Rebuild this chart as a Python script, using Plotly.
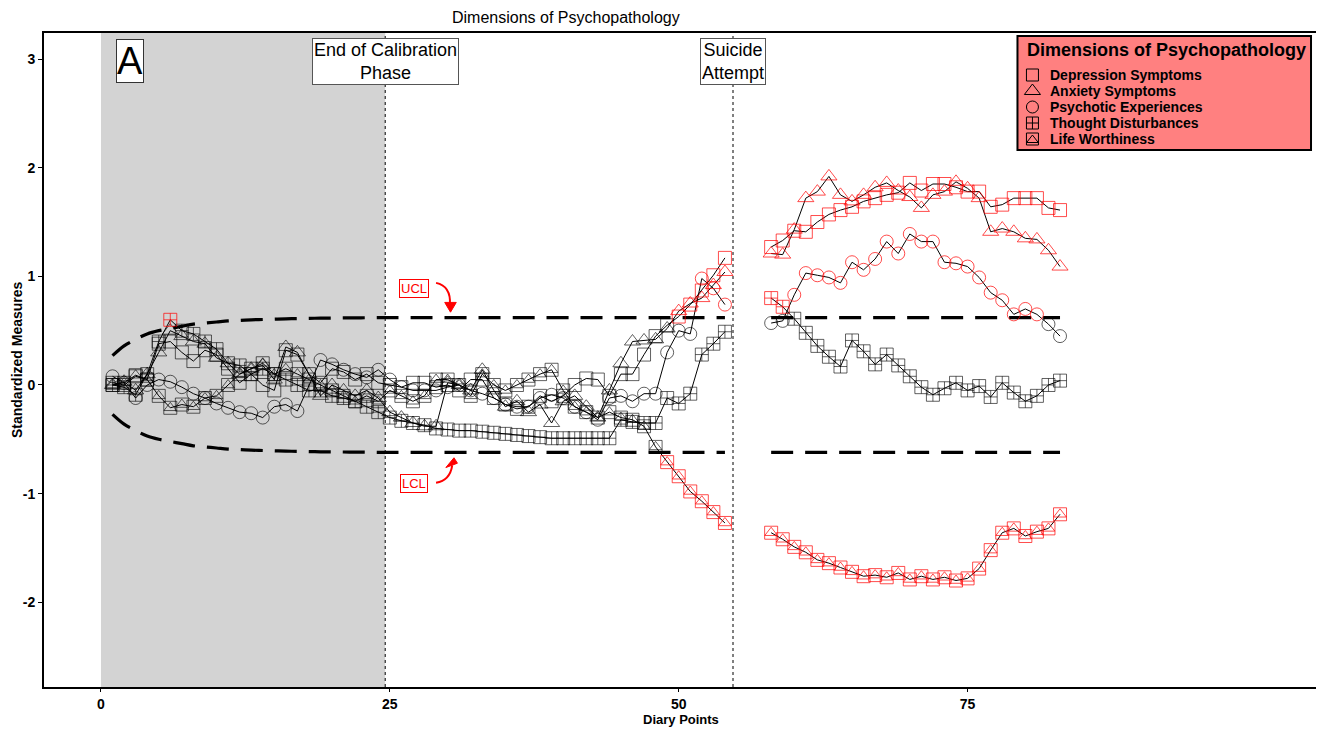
import plotly.graph_objects as go

# ---------------- data ----------------
x_pre = list(range(1, 55))
x_post = list(range(58, 84))

dep_pre = [0.02, 0.00, 0.08, 0.05, 0.38, 0.40, 0.30, 0.22, 0.32, 0.28,
           0.15, 0.02, 0.10, 0.00, -0.05, 0.32, 0.28, 0.10, 0.02, 0.15,
           0.12, 0.05, 0.10, 0.02, 0.00, -0.02, 0.02, 0.02, -0.02, 0.00,
           -0.05, 0.05, 0.05, -0.12, -0.18, -0.22, -0.20, -0.10, -0.15, -0.10,
           0.00, 0.06, 0.05, -0.10, 0.10, 0.10, 0.28, 0.45, 0.55, 0.63,
           0.74, 0.87, 1.01, 1.17]
dep_post = [1.27, 1.33, 1.42, 1.41, 1.50, 1.57, 1.61, 1.64, 1.69, 1.72,
            1.75, 1.77, 1.86, 1.79, 1.85, 1.85, 1.82, 1.78, 1.78, 1.64,
            1.66, 1.72, 1.72, 1.72, 1.63, 1.61]

anx_pre = [0.00, 0.03, -0.05, 0.10, 0.30, 0.50, 0.45, 0.40, 0.38, 0.25,
           0.20, 0.10, 0.15, 0.18, 0.05, 0.35, 0.30, 0.10, -0.10, 0.00,
           -0.05, -0.10, -0.05, -0.12, -0.25, -0.30, -0.35, -0.38, -0.38, 0.02,
           0.00, -0.05, 0.14, -0.05, -0.20, -0.15, -0.25, -0.18, -0.35, -0.15,
           -0.10, -0.20, -0.30, -0.05, 0.20, 0.40, 0.41, 0.42, 0.52, 0.68,
           0.75, 0.80, 0.92, 1.04]
anx_post = [1.21, 1.20, 1.43, 1.72, 1.78, 1.92, 1.75, 1.69, 1.75, 1.82,
            1.86, 1.79, 1.73, 1.63, 1.75, 1.78, 1.87, 1.81, 1.72, 1.41,
            1.44, 1.41, 1.35, 1.34, 1.24, 1.09]

psy_pre = [0.08, 0.02, -0.12, 0.00, 0.05, 0.03, -0.02, -0.08, -0.12, -0.17,
           -0.21, -0.25, -0.26, -0.30, -0.20, -0.18, -0.24, 0.00, 0.23, 0.19,
           0.14, 0.10, 0.07, 0.14, 0.05, -0.02, -0.05, -0.05, -0.05, -0.02,
           0.00, -0.05, -0.08, -0.12, -0.18, -0.20, -0.20, -0.12, -0.09, -0.12,
           -0.20, -0.25, -0.32, -0.12, -0.10, -0.15, -0.08, -0.08, 0.30, 0.50,
           0.47, 0.98, 0.89, 0.74]
psy_post = [0.57, 0.59, 0.83, 1.03, 1.01, 0.99, 0.94, 1.13, 1.06, 1.16,
            1.32, 1.21, 1.39, 1.32, 1.32, 1.13, 1.12, 1.09, 0.99, 0.85,
            0.78, 0.65, 0.70, 0.65, 0.56, 0.45]

thd_pre = [0.00, -0.02, -0.09, 0.10, 0.40, 0.60, 0.50, 0.47, 0.40, 0.33,
           0.20, 0.18, 0.10, 0.15, 0.10, 0.05, 0.00, -0.05, -0.05, -0.10,
           -0.12, -0.15, -0.20, -0.25, -0.30, -0.33, -0.35, -0.37, -0.40, -0.41,
           -0.42, -0.42, -0.43, -0.44, -0.45, -0.46, -0.47, -0.48, -0.49, -0.49,
           -0.49, -0.49, -0.49, -0.49, -0.32, -0.34, -0.35, -0.35, -0.12, -0.17,
           -0.08, 0.28, 0.38, 0.49]
thd_post = [0.80, 0.72, 0.61, 0.48, 0.36, 0.26, 0.17, 0.41, 0.31, 0.19,
            0.28, 0.18, 0.08, -0.02, -0.09, -0.03, 0.02, -0.05, -0.01, -0.11,
            0.02, -0.07, -0.15, -0.10, 0.00, 0.04]

lwo_pre = [0.00, 0.02, 0.09, 0.05, -0.10, -0.21, -0.18, -0.20, -0.12, -0.10,
           0.00, 0.10, 0.15, 0.20, 0.10, 0.15, 0.10, 0.05, 0.00, -0.05,
           -0.10, -0.15, -0.10, -0.15, -0.05, -0.10, -0.15, -0.10, 0.05, 0.05,
           0.00, -0.10, 0.10, 0.00, -0.05, 0.00, 0.05, 0.10, 0.14, -0.05,
           -0.20, -0.25, -0.30, -0.25, -0.30, -0.32, -0.38, -0.57, -0.71, -0.84,
           -0.98, -1.07, -1.17, -1.27]
lwo_post = [-1.36, -1.42, -1.49, -1.54, -1.61, -1.64, -1.68, -1.72, -1.76, -1.75,
            -1.77, -1.73, -1.79, -1.76, -1.79, -1.77, -1.80, -1.78, -1.69, -1.52,
            -1.36, -1.32, -1.39, -1.35, -1.32, -1.19]

series_names = ["Depression Symptoms", "Anxiety Symptoms", "Psychotic Experiences",
                "Thought Disturbances", "Life Worthiness"]

# control limits (calibration curve then flat)
limit_x = list(range(1, 26)) + [54]
limit_upper = [0.27, 0.36, 0.42, 0.47, 0.50, 0.52, 0.54, 0.56, 0.57, 0.58,
               0.59, 0.595, 0.60, 0.603, 0.606, 0.609, 0.611, 0.613, 0.615, 0.616,
               0.617, 0.618, 0.619, 0.62, 0.62, 0.62]
post_limit_x = [58, 83]
ucl = 0.62
lcl = -0.62

calib_end = 24.6
attempt_x = 54.7
x_ticks = [0, 25, 50, 75]
y_ticks = [-2, -1, 0, 1, 2, 3]
y_ticktext = ["-2", "-1", "0", "1", "2", "3"]

# ---------------- figure ----------------
NARROW = "Liberation Sans Narrow, Arial Narrow, Liberation Sans, Arial"
SANS = "Liberation Sans, Arial, Helvetica"
GREY = "rgba(0,0,0,0.62)"
RED = "rgba(255,0,0,0.7)"

# page offset of the plot div (browser body margin) is 8px; plot area target
# in the screenshot: x 44..1322, y 33..687
W, H = 1316, 721
PL, PR, PT, PB = 36, 2, 25, 42

fig = go.Figure()


def lim_at(x):
    if x <= 25:
        return limit_upper[x - 1]
    return ucl


def colours(xs, ys):
    return [RED if abs(v) > lim_at(x) + 1e-9 else GREY for x, v in zip(xs, ys)]


dash = "22px,12px"
for xs, ys in [(limit_x, limit_upper), (limit_x, [-v for v in limit_upper])]:
    fig.add_trace(go.Scatter(x=xs, y=ys, mode="lines", line_shape="spline",
                             line=dict(color="black", width=3.2, dash=dash), hoverinfo="skip"))
for lv in (ucl, lcl):
    fig.add_trace(go.Scatter(x=post_limit_x, y=[lv, lv], mode="lines",
                             line=dict(color="black", width=3.2, dash=dash), hoverinfo="skip"))

pre_all = [dep_pre, anx_pre, psy_pre, thd_pre, lwo_pre]
post_all = [dep_post, anx_post, psy_post, thd_post, lwo_post]

for pre, post in zip(pre_all, post_all):
    fig.add_trace(go.Scatter(x=x_pre, y=pre, mode="lines", line=dict(color="black", width=1),
                             hoverinfo="skip"))
    fig.add_trace(go.Scatter(x=x_post, y=post, mode="lines", line=dict(color="black", width=1),
                             hoverinfo="skip"))

xs_all = x_pre + x_post
symbols = [("square-open", 13), ("triangle-up-open", 14), ("circle-open", 13),
           ("square-cross-open", 13)]
for (sym, size), pre, post, name in zip(symbols, pre_all[:4], post_all[:4], series_names[:4]):
    ys = pre + post
    fig.add_trace(go.Scatter(x=xs_all, y=ys, mode="markers", name=name,
                             marker=dict(symbol=sym, size=size, color=colours(xs_all, ys),
                                         line=dict(width=1))))
ys = lwo_pre + lwo_post
fig.add_trace(go.Scatter(x=xs_all, y=ys, mode="markers", name=series_names[4],
                         marker=dict(symbol="square-open", size=13, color=colours(xs_all, ys),
                                     line=dict(width=1))))
fig.add_trace(go.Scatter(x=xs_all, y=ys, mode="markers", showlegend=False,
                         marker=dict(symbol="triangle-up-open", size=11, color=colours(xs_all, ys),
                                     line=dict(width=1))))

# ---------- manual legend glyphs on pixel overlay axes ----------
leg_y = [75, 91, 107, 123]
for (sym, size), yy in zip(symbols, leg_y):
    fig.add_trace(go.Scatter(x=[1034], y=[yy], mode="markers", xaxis="x2", yaxis="y2",
                             marker=dict(symbol=sym, size=12 if "triangle" not in sym else 14,
                                         color="black", line=dict(width=1)), hoverinfo="skip"))
fig.add_trace(go.Scatter(x=[1034], y=[139], mode="markers", xaxis="x2", yaxis="y2",
                         marker=dict(symbol="square-open", size=12, color="black", line=dict(width=1)),
                         hoverinfo="skip"))
fig.add_trace(go.Scatter(x=[1034], y=[140], mode="markers", xaxis="x2", yaxis="y2",
                         marker=dict(symbol="triangle-up-open", size=10, color="black", line=dict(width=1)),
                         hoverinfo="skip"))

shapes = [
    dict(type="rect", xref="x", yref="paper", x0=0, x1=calib_end, y0=0, y1=1,
         fillcolor="#D3D3D3", line=dict(width=0), layer="below"),
    dict(type="line", xref="x", yref="paper", x0=calib_end, x1=calib_end, y0=0, y1=1,
         line=dict(color="black", width=1, dash="dot"), layer="below"),
    dict(type="line", xref="x", yref="paper", x0=attempt_x, x1=attempt_x, y0=0, y1=1,
         line=dict(color="black", width=1, dash="dot"), layer="below"),
    # legend box
    dict(type="rect", xref="paper", yref="paper", x0=(1019 - 44) / 1278, x1=(1313 - 44) / 1278,
         y0=(687 - 150) / 654, y1=(687 - 36) / 654, fillcolor="#FF8080",
         line=dict(color="black", width=2), layer="below"),
    # UCL arrow
    dict(type="path", xref="x", yref="y", path="M 29.0,0.94 Q 30.3,0.91 30.2,0.74",
         line=dict(color="red", width=2)),
    dict(type="path", xref="x", yref="y", path="M 29.75,0.76 L 30.75,0.76 L 30.25,0.67 Z",
         fillcolor="red", line=dict(color="red", width=1)),
    # LCL arrow
    dict(type="path", xref="x", yref="y", path="M 29.0,-0.90 Q 30.2,-0.88 30.4,-0.74",
         line=dict(color="red", width=2)),
    dict(type="path", xref="x", yref="y", path="M 29.85,-0.76 L 30.85,-0.72 L 30.55,-0.67 Z",
         fillcolor="red", line=dict(color="red", width=1)),
]

annotations = [
    dict(text="Dimensions of Psychopathology", xref="paper", yref="paper",
         x=(567 - 44) / 1278, y=(687 - 17) / 654, showarrow=False,
         font=dict(family=NARROW, size=16, color="black"), xanchor="center", yanchor="middle"),
    dict(text="A", xref="x", yref="y", x=2.5, y=2.98, showarrow=False,
         font=dict(family=SANS, size=38, color="black"), bgcolor="white",
         bordercolor="#333", borderwidth=1, borderpad=0),
    dict(text="End of Calibration<br>Phase", xref="x", yref="y", x=calib_end, y=2.98,
         showarrow=False, font=dict(family=NARROW, size=18, color="black"), bgcolor="white",
         bordercolor="#555", borderwidth=1, borderpad=1),
    dict(text="Suicide<br>Attempt", xref="x", yref="y", x=attempt_x, y=2.98,
         showarrow=False, font=dict(family=NARROW, size=18, color="black"), bgcolor="white",
         bordercolor="#555", borderwidth=1, borderpad=1),
    dict(text="UCL", xref="x", yref="y", x=27.1, y=0.89, showarrow=False,
         font=dict(family=SANS, size=13, color="red"), bgcolor="white",
         bordercolor="red", borderwidth=1, borderpad=1),
    dict(text="LCL", xref="x", yref="y", x=27.1, y=-0.91, showarrow=False,
         font=dict(family=SANS, size=13, color="red"), bgcolor="white",
         bordercolor="red", borderwidth=1, borderpad=1),
    dict(text="Diary Points", xref="paper", yref="paper", x=0.499, y=(687 - 719) / 654,
         showarrow=False, font=dict(family=SANS, size=13, color="black", weight="bold"),
         yanchor="middle"),
    dict(text="Standardized Measures", xref="paper", yref="paper",
         x=(17 - 44) / 1278, y=0.5, textangle=-90, showarrow=False,
         font=dict(family=SANS, size=14, color="black", weight="bold"),
         xanchor="center", yanchor="middle"),
    dict(text="Dimensions of Psychopathology", xref="paper", yref="paper",
         x=(1027 - 44) / 1278, y=(687 - 50) / 654, xanchor="left", yanchor="middle",
         showarrow=False, font=dict(family=SANS, size=18, color="black", weight="bold")),
]
for name, yy in zip(series_names, [75, 91, 107, 123, 139]):
    annotations.append(dict(text=name, xref="paper", yref="paper",
                            x=(1050 - 44) / 1278, y=(687 - yy) / 654, xanchor="left",
                            yanchor="middle", showarrow=False,
                            font=dict(family=SANS, size=14, color="black", weight="bold")))

fig.update_layout(
    width=W, height=H,
    margin=dict(l=PL, r=PR, t=PT, b=PB),
    plot_bgcolor="white", paper_bgcolor="white",
    showlegend=False,
    shapes=shapes, annotations=annotations,
    xaxis=dict(range=[-4.93, 105.5], tickvals=x_ticks, ticks="outside", ticklen=3,
               tickcolor="black", showgrid=False, zeroline=False, showline=True,
               linecolor="black", linewidth=2, mirror=True,
               tickfont=dict(family=SANS, size=14, color="black", weight="bold")),
    yaxis=dict(range=[-2.78, 3.24], tickvals=y_ticks, ticktext=y_ticktext, ticks="outside",
               ticklen=4, tickcolor="black", showgrid=False, zeroline=False, showline=True,
               linecolor="black", linewidth=2, mirror=True,
               tickfont=dict(family=SANS, size=14, color="black", weight="bold")),
    xaxis2=dict(range=[44, 1322], overlaying="x", visible=False, anchor="y2"),
    yaxis2=dict(range=[687, 33], overlaying="y", visible=False, anchor="x2"),
)

fig.write_html("out.html")
